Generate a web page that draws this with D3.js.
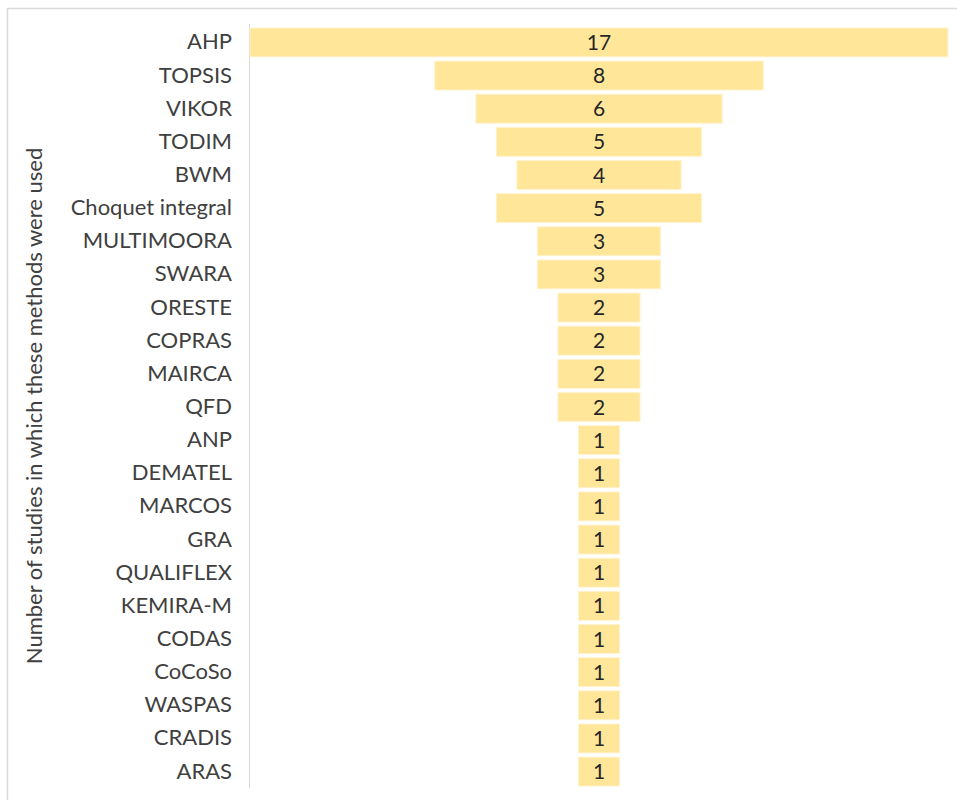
<!DOCTYPE html>
<html><head><meta charset="utf-8">
<script src="https://cdn.jsdelivr.net/npm/d3@7"></script>
<style>body{margin:0;background:#fff}svg{display:block}</style>
</head><body>
<script>
const methods = ["AHP","TOPSIS","VIKOR","TODIM","BWM","Choquet integral","MULTIMOORA","SWARA","ORESTE","COPRAS","MAIRCA","QFD","ANP","DEMATEL","MARCOS","GRA","QUALIFLEX","KEMIRA-M","CODAS","CoCoSo","WASPAS","CRADIS","ARAS"];
const counts = [17,8,6,5,4,5,3,3,2,2,2,2,1,1,1,1,1,1,1,1,1,1,1];
const axisTitle = "Number of studies in which these methods were used";

const W = 957, H = 800;
const svg = d3.select("body").append("svg").attr("width", W).attr("height", H);
const font = "Lato, 'Open Sans', sans-serif";

// chart border
svg.append("rect").attr("x", 7.5).attr("y", 8.5).attr("width", W + 10).attr("height", H + 10)
  .attr("fill", "none").attr("stroke", "#d9d9d9").attr("stroke-width", 1.5);

const y = d3.scaleBand().domain(methods).range([26, 788]).paddingInner(0.13).paddingOuter(0.06);
const maxV = d3.max(counts);
const w = d3.scaleLinear().domain([0, maxV]).range([0, 698]);
const cx = 250 + w(maxV) / 2;

// axis line
svg.append("line").attr("x1", 249.5).attr("x2", 249.5).attr("y1", 24).attr("y2", 788)
  .attr("stroke", "#d9d9d9").attr("stroke-width", 1);

const g = svg.append("g");
const rows = methods.map((m, i) => ({m, v: counts[i]}));
g.selectAll("rect.bar").data(rows).join("rect").attr("class", "bar")
  .attr("x", d => cx - w(d.v) / 2).attr("width", d => w(d.v))
  .attr("y", d => y(d.m)).attr("height", y.bandwidth())
  .attr("fill", "#ffe699").attr("stroke", "#fff2cc").attr("stroke-width", 1);

g.selectAll("text.val").data(rows).join("text").attr("class", "val")
  .attr("x", cx).attr("y", d => y(d.m) + y.bandwidth() / 2)
  .attr("dy", "0.36em").attr("text-anchor", "middle")
  .attr("font-family", font).attr("font-size", 21).attr("fill", "#262626")
  .text(d => d.v);

// category axis labels
const ax = svg.append("g").attr("transform", "translate(249,0)")
  .call(d3.axisLeft(y).tickSize(0).tickPadding(17));
ax.select(".domain").remove();
ax.selectAll("text").attr("font-family", font).attr("font-size", 22).attr("fill", "#404040");

svg.append("text").attr("transform", "translate(42,406) rotate(-90)")
  .attr("text-anchor", "middle").attr("font-family", font).attr("font-size", 22)
  .attr("fill", "#404040").text(axisTitle);
</script>
</body></html>
